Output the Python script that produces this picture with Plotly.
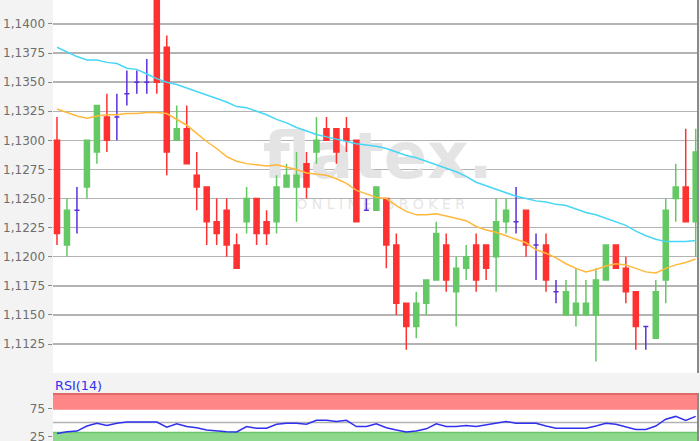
import plotly.graph_objects as go

# ---------------- data ----------------
idx = list(range(65))
open_ = [1.1300, 1.1210, 1.1240, 1.1260, 1.1290, 1.1320, 1.1320, 1.1340, 1.1350, 1.1350,
         1.1430, 1.1380, 1.1300, 1.1310, 1.1270, 1.1260, 1.1230, 1.1240, 1.1210, 1.1230,
         1.1250, 1.1230, 1.1230, 1.1260, 1.1260, 1.1280, 1.1290, 1.1310, 1.1310, 1.1310,
         1.1300, 1.1240, 1.1240, 1.1250, 1.1210, 1.1160, 1.1140, 1.1160, 1.1180, 1.1210,
         1.1170, 1.1190, 1.1210, 1.1210, 1.1200, 1.1230, 1.1230, 1.1240, 1.1210, 1.1210,
         1.1170, 1.1150, 1.1150, 1.1150, 1.1150, 1.1180, 1.1210, 1.1190, 1.1170, 1.1140,
         1.1130, 1.1180, 1.1250, 1.1260, 1.1230]
high = [1.1320, 1.1250, 1.1260, 1.1300, 1.1330, 1.1340, 1.1340, 1.1360, 1.1360, 1.1370,
        1.1440, 1.1390, 1.1330, 1.1330, 1.1290, 1.1260, 1.1250, 1.1250, 1.1220, 1.1260,
        1.1250, 1.1240, 1.1270, 1.1280, 1.1290, 1.1290, 1.1320, 1.1320, 1.1310, 1.1320,
        1.1300, 1.1250, 1.1260, 1.1250, 1.1220, 1.1160, 1.1170, 1.1180, 1.1230, 1.1220,
        1.1200, 1.1210, 1.1220, 1.1210, 1.1250, 1.1250, 1.1260, 1.1240, 1.1220, 1.1220,
        1.1180, 1.1180, 1.1190, 1.1180, 1.1190, 1.1210, 1.1210, 1.1200, 1.1170, 1.1140,
        1.1180, 1.1250, 1.1280, 1.1310, 1.1310]
low = [1.1210, 1.1200, 1.1220, 1.1250, 1.1280, 1.1290, 1.1300, 1.1330, 1.1340, 1.1340,
       1.1340, 1.1270, 1.1300, 1.1280, 1.1240, 1.1210, 1.1210, 1.1200, 1.1190, 1.1220,
       1.1210, 1.1210, 1.1220, 1.1260, 1.1230, 1.1250, 1.1280, 1.1300, 1.1280, 1.1290,
       1.1230, 1.1240, 1.1240, 1.1190, 1.1150, 1.1120, 1.1130, 1.1150, 1.1180, 1.1170,
       1.1140, 1.1180, 1.1170, 1.1180, 1.1170, 1.1220, 1.1220, 1.1200, 1.1180, 1.1170,
       1.1160, 1.1150, 1.1140, 1.1150, 1.1110, 1.1180, 1.1190, 1.1160, 1.1120, 1.1120,
       1.1130, 1.1160, 1.1230, 1.1230, 1.1200]
close = [1.1220, 1.1240, 1.1240, 1.1300, 1.1330, 1.1300, 1.1320, 1.1340, 1.1350, 1.1350,
         1.1350, 1.1290, 1.1310, 1.1280, 1.1260, 1.1230, 1.1220, 1.1210, 1.1190, 1.1250,
         1.1220, 1.1220, 1.1260, 1.1270, 1.1270, 1.1260, 1.1300, 1.1300, 1.1290, 1.1300,
         1.1230, 1.1240, 1.1260, 1.1210, 1.1160, 1.1140, 1.1160, 1.1180, 1.1220, 1.1180,
         1.1190, 1.1200, 1.1180, 1.1190, 1.1230, 1.1240, 1.1230, 1.1210, 1.1210, 1.1180,
         1.1170, 1.1170, 1.1160, 1.1160, 1.1180, 1.1210, 1.1190, 1.1170, 1.1140, 1.1140,
         1.1170, 1.1240, 1.1260, 1.1230, 1.1290]
ma_long = [1.1380, 1.1376, 1.1372, 1.1369, 1.1369, 1.1367, 1.1366, 1.1362, 1.1361, 1.1357,
           1.1353, 1.1350, 1.1348, 1.1345, 1.1342, 1.1339, 1.1336, 1.1333, 1.1329, 1.1328,
           1.1325, 1.1322, 1.1318, 1.1315, 1.1311, 1.1308, 1.1305, 1.1303, 1.1301, 1.1299,
           1.1297, 1.1296, 1.1295, 1.1293, 1.1290, 1.1287, 1.1285, 1.1282, 1.1279, 1.1276,
           1.1273, 1.1269, 1.1264, 1.1261, 1.1258, 1.1255, 1.1252, 1.1250, 1.1248, 1.1247,
           1.1245, 1.1244, 1.1241, 1.1238, 1.1236, 1.1233, 1.1230, 1.1227, 1.1222, 1.1218,
           1.1215, 1.1213, 1.1213, 1.1213, 1.1214]
ma_short = [1.1327, 1.1324, 1.1321, 1.1319, 1.1321, 1.1322, 1.1322, 1.1323, 1.1323, 1.1324,
            1.1324, 1.1323, 1.1318, 1.1313, 1.1306, 1.1299, 1.1293, 1.1286, 1.1282, 1.1280,
            1.1279, 1.1278, 1.1279, 1.1277, 1.1275, 1.1272, 1.1271, 1.1270, 1.1267, 1.1263,
            1.1257, 1.1254, 1.1251, 1.1250, 1.1244, 1.1239, 1.1236, 1.1236, 1.1237, 1.1235,
            1.1233, 1.1231, 1.1226, 1.1223, 1.1221, 1.1218, 1.1215, 1.1212, 1.1206, 1.1203,
            1.1199, 1.1194, 1.1190, 1.1187, 1.1189, 1.1192, 1.1194, 1.1193, 1.1190, 1.1187,
            1.1186, 1.1190, 1.1193, 1.1195, 1.1198]
rsi = [30.5, 34, 35, 44, 49, 45, 49, 51, 51, 51,
       51, 42, 48, 43, 41, 37, 35, 34, 33.5, 43,
       40, 40, 47, 49, 49, 47, 54, 54, 52, 54,
       43, 43, 48, 41, 37, 33.5, 35, 39, 48, 43,
       43, 45, 43, 46, 49, 52, 49, 49, 49, 44,
       40, 40, 40, 40, 44, 49, 47, 42, 38, 38,
       44, 56, 61, 54, 61]
price_ticks = [1.1125, 1.1150, 1.1175, 1.1200, 1.1225, 1.1250, 1.1275,
               1.1300, 1.1325, 1.1350, 1.1375, 1.1400]
partial_tick = 1.1425
rsi_ticks = [25, 75]
rsi_mid = 50
rsi_hi_band = 73
rsi_lo_band = 33.5

# ---------------- styles ----------------
RED, GREEN, PURPLE = "#ff3131", "#64c864", "#5a30dc"
CYAN, ORANGE, BLUE = "#47d6f5", "#ffb83a", "#3030ee"
GRID, AXIS, TXT = "#b3b3b3", "#8a8a8a", "#6e6e6e"
FONT = "DejaVu Sans"

x_rng = [-0.4, 64.23]
y_rng = [1.11001, 1.14206]
r_rng = [17.4, 102.5]


def subset(cond):
    sel = [i for i in idx if cond(open_[i], close[i])]
    return (sel, [open_[i] for i in sel], [high[i] for i in sel],
            [low[i] for i in sel], [close[i] for i in sel])


fig = go.Figure()

# watermark (below the candles)
fig.add_trace(go.Scatter(
    x=[x_rng[0] + 0.5035 * (x_rng[1] - x_rng[0])],
    y=[y_rng[0] + 0.567 * (y_rng[1] - y_rng[0])], mode="text",
    text=["flatex."], textfont=dict(family=FONT, size=64, color="#e4e4e4", weight="bold"),
    hoverinfo="skip", showlegend=False, zorder=-1))
fig.add_trace(go.Scatter(
    x=[x_rng[0] + 0.508 * (x_rng[1] - x_rng[0])],
    y=[y_rng[0] + 0.449 * (y_rng[1] - y_rng[0])], mode="text",
    text=["O N L I N E   B R O K E R"],
    textfont=dict(family=FONT, size=14, color="#e6e6e6"),
    hoverinfo="skip", showlegend=False, zorder=-1))

for cond, col in [(lambda o, c: c > o, GREEN), (lambda o, c: c < o, RED),
                  (lambda o, c: c == o, PURPLE)]:
    xs, o, h, l, c = subset(cond)
    fig.add_trace(go.Candlestick(
        x=xs, open=o, high=h, low=l, close=c, xaxis="x", yaxis="y",
        increasing=dict(line=dict(color=col, width=1.5), fillcolor=col),
        decreasing=dict(line=dict(color=col, width=1.5), fillcolor=col),
        whiskerwidth=0, showlegend=False, hoverinfo="skip"))

fig.add_trace(go.Scatter(x=idx, y=ma_long, mode="lines", line=dict(color=CYAN, width=1.5),
                         showlegend=False, hoverinfo="skip"))
fig.add_trace(go.Scatter(x=idx, y=ma_short, mode="lines", line=dict(color=ORANGE, width=1.5),
                         showlegend=False, hoverinfo="skip"))
fig.add_trace(go.Scatter(x=idx, y=rsi, mode="lines", xaxis="x2", yaxis="y2",
                         line=dict(color=BLUE, width=1.5), showlegend=False, hoverinfo="skip"))

price_dom = [1 - 373 / 441, 1]
rsi_dom = [0, 48 / 441]

fig.update_layout(
    width=700, height=441, margin=dict(l=53, r=2, t=0, b=0, autoexpand=False),
    paper_bgcolor="#f3f3f3", plot_bgcolor="#ffffff",
    separators=",.", font=dict(family=FONT, size=12, color=TXT),
    boxgap=0.28, showlegend=False,
    xaxis=dict(domain=[0, 1], range=x_rng, anchor="y", showgrid=False, zeroline=False,
               showticklabels=False, ticks="", showline=True, linecolor=AXIS, linewidth=2,
               rangeslider=dict(visible=False), automargin=False),
    yaxis=dict(domain=price_dom, range=y_rng, tickvals=price_ticks, tickformat=".4f",
               showgrid=True, gridcolor=GRID, gridwidth=1.5, zeroline=False,
               ticks="outside", ticklen=4, tickcolor=AXIS, showline=True, automargin=False,
               ticklabeloverflow="allow",
               linecolor=AXIS, linewidth=1.5, tickfont=dict(family=FONT, size=12, color=TXT)),
    xaxis2=dict(domain=[0, 1], range=x_rng, anchor="y2", showgrid=False, zeroline=False,
                showticklabels=False, ticks="", showline=False, automargin=False,
                rangeslider=dict(visible=False)),
    yaxis2=dict(domain=rsi_dom, range=r_rng, tickvals=rsi_ticks, showgrid=False,
                zeroline=False, ticks="outside", ticklen=4, tickcolor=AXIS, showline=True,
                automargin=False, ticklabeloverflow="allow",
                linecolor=AXIS, linewidth=1.5, tickfont=dict(family=FONT, size=12, color=TXT)),
    shapes=[
        dict(type="rect", xref="x2 domain", yref="y2", x0=0, x1=1, y0=rsi_hi_band, y1=r_rng[1],
             fillcolor="#ff8686", line=dict(width=0), layer="below"),
        dict(type="line", xref="x2 domain", yref="y2", x0=0, x1=1, y0=r_rng[1] - 1.5,
             y1=r_rng[1] - 1.5, line=dict(color="#e06a6a", width=2.5), layer="below"),
        dict(type="rect", xref="x2 domain", yref="y2", x0=0, x1=1, y0=r_rng[0], y1=rsi_lo_band,
             fillcolor="#8ed88e", line=dict(width=0), layer="below"),
        dict(type="line", xref="x2 domain", yref="y2", x0=0, x1=1, y0=rsi_lo_band - 1,
             y1=rsi_lo_band - 1, line=dict(color="#6cc46c", width=1.5), layer="below"),
        dict(type="line", xref="x2 domain", yref="y2", x0=0, x1=1, y0=rsi_mid, y1=rsi_mid,
             line=dict(color=GRID, width=1.5), layer="below"),
        dict(type="line", xref="paper", yref="paper", x0=1, x1=1, y0=price_dom[0], y1=1,
             line=dict(color=AXIS, width=2)),
        dict(type="line", xref="paper", yref="paper", x0=1, x1=1, y0=0, y1=rsi_dom[1],
             line=dict(color=AXIS, width=2)),
    ],
    annotations=[
        dict(text="RSI(14)", xref="paper", yref="paper", x=0, y=(441 - 385.5) / 441,
             xanchor="left", yanchor="middle", showarrow=False,
             font=dict(family=FONT, size=12.8, color=BLUE)),
        dict(text="1,1425", xref="paper", yref="y", x=-10.3 / 645, y=partial_tick,
             xanchor="right", yanchor="middle", showarrow=False,
             font=dict(family=FONT, size=12, color=TXT)),
    ],
)

fig.write_html(
    "out.html",
    config={"displayModeBar": False, "staticPlot": True},
    post_script="document.body.style.margin='0';document.body.style.overflow='hidden';",
)
